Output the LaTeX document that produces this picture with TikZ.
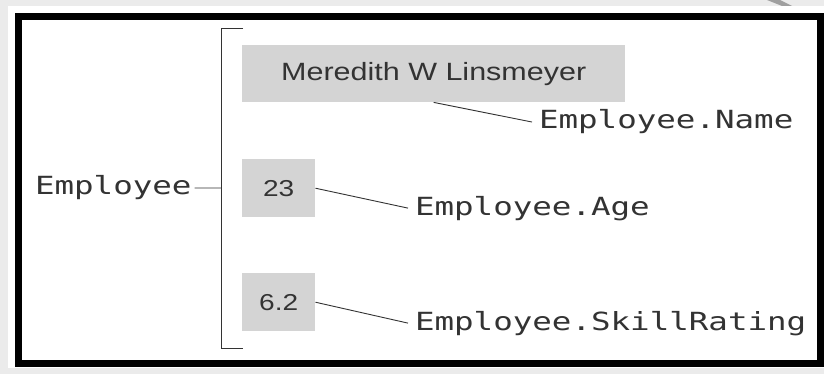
\documentclass[tikz,border=0pt]{standalone}
\usepackage{fontspec}
\usepackage{xcolor}
\usetikzlibrary{positioning}
\newfontfamily\codefont[FakeStretch=1.3]{DejaVu Sans Mono}
\newfontfamily\valfont[FakeStretch=1.22]{Liberation Sans}
\definecolor{pagegray}{HTML}{EBEBEB}
\definecolor{cellgray}{HTML}{D4D4D4}
\definecolor{inkgray}{HTML}{333333}
\tikzset{
  cell/.style={fill=cellgray,draw=none,inner sep=0pt,text=inkgray},
  fieldlbl/.style={anchor=base west,inner sep=0pt,outer xsep=7pt,text=inkgray,
    font=\codefont\fontsize{25}{30}\selectfont},
  lead/.style={draw=inkgray,line width=0.9pt}
}
\begin{document}
\begin{tikzpicture}
\begin{scope}[x=1pt,y=-1pt]
  \useasboundingbox (0,0) rectangle (824,374);
  \fill[pagegray] (0,0) rectangle (824,374);
  \fill[gray!75] (767,0) -- (780,0) -- (792,6) -- (782,6) -- cycle;
  \fill[white] (8,6) rectangle (824,368);
  \draw[line width=7pt] (18,16.5) rectangle (820,363);
  % record and its bracket
  \node[anchor=base west,inner sep=0pt,outer xsep=3pt,text=inkgray,
    font=\codefont\fontsize{25}{30}\selectfont] (emp) at (32,195) {Employee};
  \coordinate (bTop) at (243,28);
  \coordinate (bBot) at (243,348);
  \coordinate (bMid) at (221,188);
  \draw[inkgray,line width=0.9pt] (bTop) -- (bTop -| bMid) -- (bBot -| bMid) -- (bBot);
  \draw[lead] (emp.east) -- (bMid);
  % fields
  \node[cell,anchor=north west,minimum width=383pt,minimum height=57pt,
    font=\valfont\fontsize{25}{30}\selectfont] (nameBox) at (242,45) {Meredith W Linsmeyer};
  \node[fieldlbl] (nameLbl) at (532,129) {Employee.Name};
  \draw[lead] (nameBox.south) -- (nameLbl.west);
  \foreach \key/\top/\val/\base/\lbl in {age/159/23/215/Age,skill/273/6.2/330/SkillRating} {
    \node[cell,anchor=north west,minimum width=73pt,minimum height=58pt,
      font=\valfont\fontsize{23}{27}\selectfont] (\key Box) at (242,\top) {\val};
    \node[fieldlbl] (\key Lbl) at (408,\base) {Employee.\lbl};
    \draw[lead] (\key Box.east) -- (\key Lbl.west);
  }
\end{scope}
\end{tikzpicture}
\end{document}
